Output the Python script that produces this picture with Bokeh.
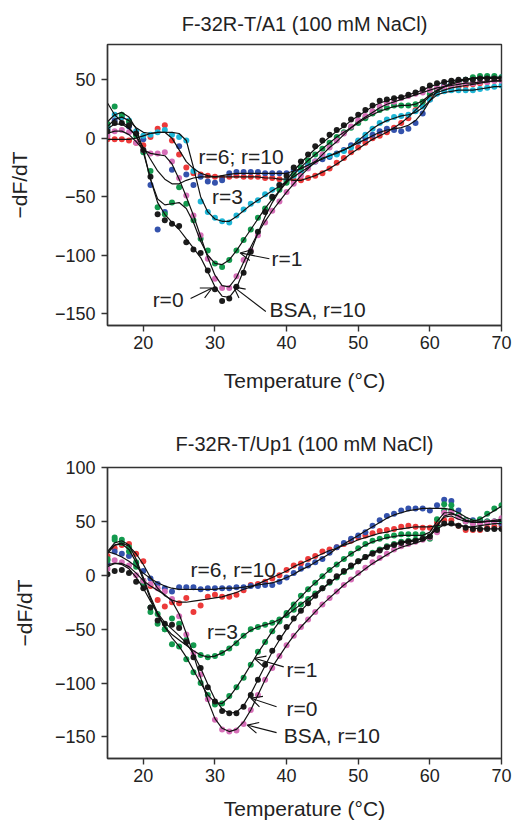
from bokeh.plotting import figure
from bokeh.layouts import column
from bokeh.models import FixedTicker, Arrow, OpenHead, Label
from bokeh.embed import file_html
from bokeh.resources import INLINE

TEMP = list(range(15, 71))

# ---------------- Top panel: F-32R-T/A1 ----------------
A1_R0_DOTS = [6, 13, 13, 11, 4, -10, -33, -65, -70, -73, -75, -89, -95, -98, -113, -129, -139, -137, -127, -115,
              -97, -80, -63, -50, -40, -32, -25, -20, -14, -7, -2, 3, 7, 11, 16, 20, 24, 28, 32, 33,
              34, 35, 37, 39, 42, 45, 47, 48, 49, 50, 50, 50, 51, 51, 51, 51]
A1_BSA_DOTS = [2, 6, 7, 5, -4, -10, -13, -13, -12, -20, -34, -49, -66, -83, -103, -120, -128, -128, -118, -104,
               -96, -83, -72, -62, -54, -46, -39, -32, -26, -20, -14, -8, -2, 4, 10, 15, 19, 23, 27, 30,
               31, 34, 36, 38, 39, 41, 43, 44, 45, 46, 47, 47, 48, 48, 49, 49]
A1_R1_DOTS = [12, 27, 20, 14, 2, -12, -28, -59, -65, -55, -42, -56, -70, -86, -96, -107, -110, -104, -96, -87,
              -78, -68, -60, -51, -44, -38, -31, -25, -19, -14, -9, -4, 1, 5, 9, 13, 17, 21, 24, 26,
              28, 28, 28, 29, 31, 38, 42, 44, 46, 48, 50, 52, 53, 53, 53, 52]
A1_R3_DOTS = [10, 20, 18, 15, 6, 2, 3, 5, 7, 3, 1, -2, -28, -54, -63, -68, -71, -72, -66, -61,
              -56, -53, -48, -44, -40, -36, -32, -28, -24, -20, -16, -15, -14, -11, -8, -2, 3, 8, 13, 16,
              18, 19, 20, 23, 27, 33, 38, 40, 41, 41, 41, 41, 42, 43, 44, 45]
A1_R6_DOTS = [8, 15, 18, 10, 4, -1, -40, -78, -63, -27, -7, -31, -40, -33, -37, -38, -36, -30, -29, -29,
              -29, -29, -30, -30, -30, -30, -27, -25, -23, -20, -18, -16, -13, -10, -6, -3, 0, 3, 6, 8,
              7, 6, 8, 13, 21, 33, 42, 45, 47, 49, 50, 51, 51, 52, 52, 52]
A1_R10_DOTS = [-1, -1, -1, -2, -4, -6, 1, 8, 11, -2, -14, -25, -30, -31, -32, -33, -34, -33, -32, -33,
               -33, -33, -34, -34, -35, -36, -36, -36, -34, -32, -30, -26, -21, -17, -12, -8, -4, 0, 2, 5,
               9, 13, 17, 24, 31, 37, 40, 42, 43, 44, 45, 46, 47, 48, 49, 50]

A1_R0_FIT = [30, 20, 14, 9, 2, -12, -35, -55, -65, -72, -78, -86, -94, -102, -114, -127, -135, -136, -128, -113,
             -97, -81, -67, -55, -45, -36, -28, -21, -15, -9, -4, 1, 6, 10, 15, 19, 23, 27, 30, 32,
             34, 35, 37, 39, 41, 44, 46, 48, 49, 50, 50, 51, 51, 51, 51, 51]
A1_BSA_FIT = [4, 6, 6, 3, -3, -10, -13, -14, -15, -22, -35, -50, -66, -84, -102, -117, -126, -127, -119, -106,
              -93, -81, -71, -62, -54, -46, -39, -32, -26, -20, -14, -8, -3, 3, 9, 14, 18, 22, 26, 29,
              31, 33, 35, 37, 39, 41, 43, 44, 45, 46, 47, 47, 48, 48, 49, 49]
A1_R1_FIT = [14, 20, 22, 18, 8, -10, -35, -52, -57, -56, -55, -60, -72, -88, -100, -107, -108, -104, -96, -87,
             -78, -69, -60, -52, -45, -38, -31, -25, -19, -14, -9, -4, 1, 5, 9, 13, 17, 20, 23, 25,
             27, 28, 28, 29, 32, 37, 41, 44, 46, 48, 50, 51, 52, 52, 52, 52]
A1_R3_FIT = [10, 16, 18, 15, 9, 5, 4, 5, 5, 5, 4, -2, -25, -50, -63, -69, -71, -71, -67, -62,
             -57, -53, -49, -45, -41, -37, -33, -29, -25, -21, -17, -15, -13, -10, -7, -2, 3, 8, 12, 15,
             17, 19, 20, 22, 26, 32, 37, 39, 40, 41, 41, 41, 42, 43, 44, 44]
A1_R6_FIT = [8, 12, 12, 8, 2, -8, -18, -28, -35, -39, -39, -36, -34, -33, -33, -33, -32, -31, -30, -30,
             -30, -30, -30, -30, -30, -30, -28, -26, -23, -20, -18, -15, -12, -10, -7, -4, -1, 2, 5, 7,
             8, 9, 11, 15, 22, 32, 40, 44, 47, 49, 50, 51, 51, 52, 52, 52]
A1_R10_FIT = [-1, -1, -1, -1, 0, 2, 4, 5, 5, 0, -10, -20, -26, -30, -32, -33, -33, -33, -33, -33,
              -33, -33, -34, -34, -35, -35, -36, -36, -34, -32, -29, -26, -22, -18, -13, -9, -5, -1, 2, 5,
              9, 13, 18, 24, 30, 36, 39, 41, 43, 44, 45, 46, 47, 48, 49, 49]

# ---------------- Bottom panel: F-32R-T/Up1 ----------------
UP_R0_DOTS = [1, 4, 5, 2, -6, -12, -30, -42, -45, -46, -49, -62, -76, -86, -104, -117, -126, -128, -128, -122,
              -111, -97, -83, -70, -58, -48, -40, -33, -26, -19, -12, -6, -1, 4, 9, 13, 17, 20, 23, 26,
              28, 30, 31, 32, 34, 36, 42, 48, 48, 46, 44, 43, 43, 43, 43, 43]
UP_BSA_DOTS = [6, 14, 12, 9, 0, -5, -8, -12, -15, -22, -38, -55, -72, -92, -115, -134, -143, -145, -144, -138,
               -125, -111, -97, -86, -75, -65, -56, -48, -41, -34, -27, -21, -15, -9, -4, 2, 7, 12, 16, 20,
               24, 27, 29, 31, 33, 35, 40, 58, 58, 54, 50, 48, 48, 49, 50, 53]
UP_R1_DOTS = [14, 35, 33, 26, 12, -5, -34, -36, -50, -64, -66, -78, -90, -100, -111, -120, -119, -112, -104, -95,
              -83, -71, -62, -52, -43, -35, -27, -19, -13, -7, -1, 5, 10, 15, 20, 25, 29, 32, 34, 36,
              37, 38, 38, 38, 38, 36, 52, 66, 65, 56, 51, 50, 52, 57, 62, 65]
UP_R3_DOTS = [15, 33, 30, 22, 8, -8, -30, -45, -50, -40, -45, -60, -65, -74, -76, -75, -72, -68, -63, -56,
              -50, -48, -46, -44, -41, -37, -32, -27, -22, -17, -12, -7, -2, 3, 8, 13, 17, 21, 24, 27,
              29, 31, 32, 33, 34, 34, 44, 60, 60, 55, 50, 48, 49, 50, 50, 51]
UP_R6_DOTS = [11, 22, 20, 18, 11, 4, -3, -8, -12, -15, -11, -11, -11, -13, -12, -12, -12, -12, -11, -11,
              -10, -10, -9, -9, -6, -2, 2, 6, 9, 12, 15, 21, 26, 30, 34, 37, 40, 46, 51, 55,
              57, 60, 62, 62, 62, 60, 65, 70, 69, 60, 51, 51, 51, 50, 50, 48]
UP_R10_DOTS = [18, 25, 28, 29, 20, 13, -10, -23, -29, -25, -26, -21, -34, -28, -20, -18, -20, -20, -18, -14,
               -9, -8, -6, -3, 0, 5, 9, 11, 15, 18, 22, 24, 26, 29, 32, 35, 37, 39, 41, 42,
               43, 45, 46, 45, 44, 44, 49, 51, 51, 46, 42, 42, 42, 44, 45, 46]

UP_R0_FIT = [10, 11, 10, 6, -2, -12, -24, -35, -44, -50, -56, -63, -73, -86, -101, -115, -124, -128, -127, -121,
             -110, -97, -84, -71, -60, -50, -41, -33, -26, -19, -13, -7, -2, 3, 8, 12, 16, 20, 23, 26,
             28, 30, 31, 32, 34, 37, 43, 47, 48, 47, 45, 44, 43, 43, 43, 43]
UP_BSA_FIT = [8, 11, 11, 8, 2, -5, -10, -14, -18, -24, -36, -54, -74, -95, -116, -133, -142, -145, -143, -136,
              -125, -111, -97, -85, -75, -65, -56, -48, -41, -34, -27, -21, -15, -9, -4, 1, 6, 11, 15, 19,
              23, 26, 28, 30, 32, 36, 45, 55, 57, 55, 51, 49, 49, 50, 51, 52]
UP_R1_FIT = [22, 30, 32, 28, 15, -2, -20, -35, -48, -58, -66, -76, -88, -100, -111, -118, -119, -113, -104, -94,
             -83, -72, -62, -52, -43, -35, -27, -20, -13, -7, -1, 5, 10, 15, 20, 24, 28, 31, 33, 35,
             36, 37, 37, 37, 37, 40, 50, 58, 58, 55, 51, 50, 52, 56, 60, 64]
UP_R3_FIT = [20, 28, 29, 24, 12, -4, -22, -37, -48, -55, -60, -65, -70, -74, -76, -75, -72, -68, -62, -56,
             -51, -48, -46, -44, -41, -37, -32, -27, -22, -17, -12, -7, -2, 3, 8, 13, 17, 21, 24, 27,
             29, 31, 32, 33, 34, 37, 47, 54, 55, 52, 50, 49, 49, 50, 50, 51]
UP_R6_FIT = [22, 20, 17, 13, 8, 2, -3, -7, -10, -12, -13, -13, -13, -13, -13, -13, -12, -12, -12, -11,
             -10, -9, -8, -7, -5, -2, 1, 5, 8, 12, 16, 20, 25, 29, 33, 37, 41, 45, 49, 53,
             56, 58, 60, 61, 62, 62, 62, 62, 61, 58, 54, 51, 50, 50, 50, 50]
UP_R10_FIT = [22, 28, 30, 27, 20, 10, -2, -12, -19, -23, -25, -25, -24, -23, -22, -21, -20, -18, -16, -13,
              -11, -8, -5, -2, 1, 4, 8, 11, 14, 17, 20, 23, 25, 28, 30, 33, 35, 37, 39, 40,
              42, 43, 44, 45, 45, 45, 46, 47, 47, 46, 45, 45, 46, 47, 48, 48]

X_TICKS = [20, 30, 40, 50, 60, 70]
TOP_Y_TICKS = [-150, -100, -50, 0, 50]
BOT_Y_TICKS = [-150, -100, -50, 0, 50, 100]

BLACK = "#1c1c1c"
PINK = "#d66fb8"
GREEN = "#139a4e"
CYAN = "#1fb6d6"
BLUE = "#3452ac"
RED = "#ec3a3a"

FONT = "Liberation Sans"
TXT = "#222222"


def make_fig(title, ticks_y, yr, bl, br, bt, bb, width, height, title_standoff, xlab_standoff, ylab_standoff):
    p = figure(width=width, height=height, x_range=(15, 70), y_range=yr,
               output_backend="svg", toolbar_location=None,
               min_border_left=bl, min_border_right=br,
               min_border_top=bt, min_border_bottom=bb,
               title=title)
    p.title.align = "center"
    p.title.text_font = FONT
    p.title.text_font_size = "20px"
    p.title.text_font_style = "normal"
    p.title.text_color = TXT
    p.title.standoff = title_standoff
    p.grid.visible = False
    p.outline_line_color = "#333333"
    p.outline_line_width = 1.4
    p.background_fill_color = "white"
    p.border_fill_color = "white"
    for ax in (p.xaxis[0], p.yaxis[0]):
        ax.axis_line_color = "#333333"
        ax.axis_line_width = 1.4
        ax.major_tick_line_color = "#333333"
        ax.major_tick_line_width = 1.4
        ax.major_tick_in = 0
        ax.major_tick_out = 6
        ax.minor_tick_line_color = None
        ax.major_label_text_font = FONT
        ax.major_label_text_font_size = "18px"
        ax.major_label_text_color = TXT
        ax.axis_label_text_font = FONT
        ax.axis_label_text_font_size = "21px"
        ax.axis_label_text_font_style = "normal"
        ax.axis_label_text_color = TXT
    p.xaxis.ticker = FixedTicker(ticks=X_TICKS)
    p.yaxis.ticker = FixedTicker(ticks=ticks_y)
    p.yaxis.major_label_overrides = {t: ("\u2212" + str(abs(t)) if t < 0 else str(t)) for t in ticks_y}
    p.xaxis.axis_label = "Temperature (\u00b0C)"
    p.yaxis.axis_label = "\u2212dF/dT"
    p.xaxis.major_label_standoff = 4
    p.yaxis.major_label_standoff = 6
    p.xaxis.axis_label_standoff = xlab_standoff
    p.yaxis.axis_label_standoff = ylab_standoff
    return p


def add_series(p, dots, fits):
    for ys, col in dots:
        p.scatter(TEMP, ys, size=6, color=col, line_color=None)
    for ys in fits:
        p.line(TEMP, ys, line_color="#111111", line_width=1.2)


def add_label(p, x, y, text):
    p.add_layout(Label(x=x, y=y, text=text, text_font=FONT, text_font_size="21px",
                       text_color=TXT, text_align="left", text_baseline="middle"))


def add_arrow(p, x0, y0, x1, y1):
    p.add_layout(Arrow(x_start=x0, y_start=y0, x_end=x1, y_end=y1, line_width=1.1,
                       line_color="#111111",
                       end=OpenHead(size=11, line_width=1.1, line_color="#111111")))


p1 = make_fig("F-32R-T/A1 (100 mM NaCl)", TOP_Y_TICKS, (-160, 80),
              107, 14, 43, 75, 515, 400, 20, 17, 21)
add_series(p1,
           [(A1_R10_DOTS, RED), (A1_R6_DOTS, BLUE), (A1_R3_DOTS, CYAN), (A1_R1_DOTS, GREEN),
            (A1_BSA_DOTS, PINK), (A1_R0_DOTS, BLACK)],
           [A1_R10_FIT, A1_R6_FIT, A1_R3_FIT, A1_R1_FIT, A1_BSA_FIT, A1_R0_FIT])
add_label(p1, 27.7, -16, "r=6; r=10")
add_label(p1, 29.6, -50, "r=3")
add_label(p1, 37.9, -103, "r=1")
add_label(p1, 21.3, -138, "r=0")
add_label(p1, 37.6, -146, "BSA, r=10")
add_arrow(p1, 37.6, -103, 33.5, -98)
add_arrow(p1, 26.6, -137, 29.6, -128)
add_arrow(p1, 37.1, -148, 32.6, -127)

p2 = make_fig("F-32R-T/Up1 (100 mM NaCl)", BOT_Y_TICKS, (-170, 100),
              100, 10, 67, 66, 515, 424, 26, 12, 16)
add_series(p2,
           [(UP_R10_DOTS, RED), (UP_R6_DOTS, BLUE), (UP_R3_DOTS, GREEN), (UP_R1_DOTS, GREEN),
            (UP_BSA_DOTS, PINK), (UP_R0_DOTS, BLACK)],
           [UP_R10_FIT, UP_R6_FIT, UP_R3_FIT, UP_R1_FIT, UP_BSA_FIT, UP_R0_FIT])
add_label(p2, 26.6, 5, "r=6, r=10")
add_label(p2, 28.9, -52, "r=3")
add_label(p2, 40.0, -87, "r=1")
add_label(p2, 40.0, -124, "r=0")
add_label(p2, 39.6, -149, "BSA, r=10")
add_arrow(p2, 39.6, -85, 35.5, -77)
add_arrow(p2, 38.6, -122, 35.0, -114)
add_arrow(p2, 38.6, -146, 34.5, -139)

layout = column(p1, p2, spacing=0)
open("out.html", "w").write(file_html(layout, INLINE))
